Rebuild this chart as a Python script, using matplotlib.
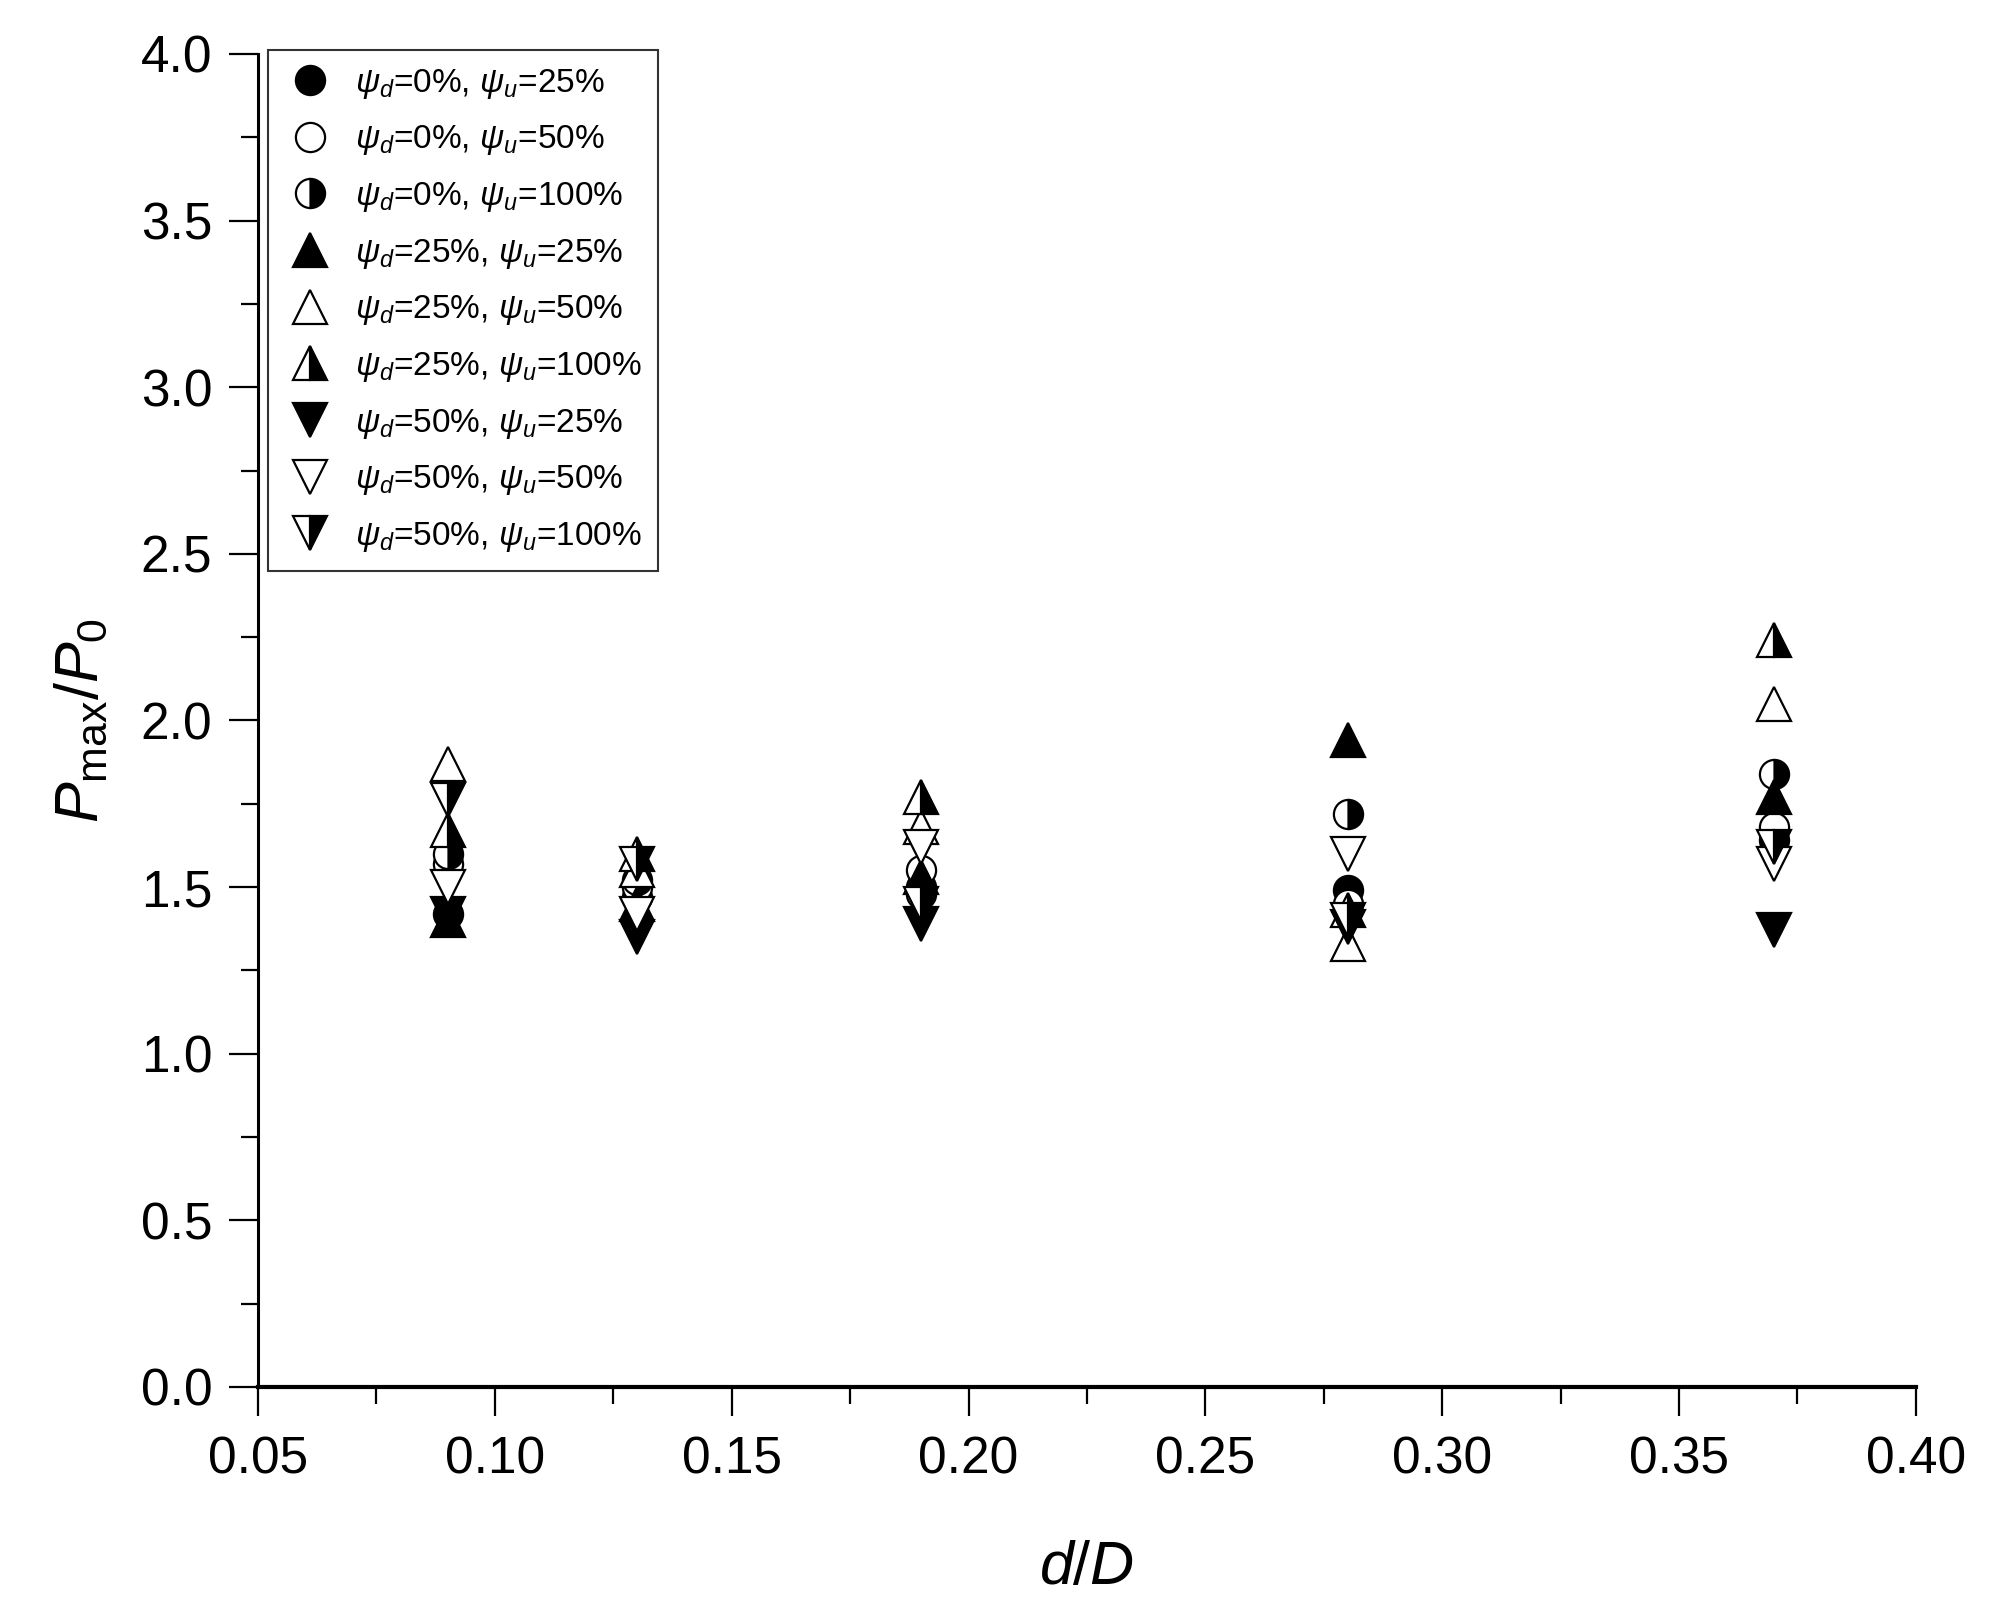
import matplotlib
matplotlib.use("Agg")
import matplotlib.pyplot as plt
from matplotlib.ticker import MultipleLocator

plt.rcParams['font.family'] = ['Liberation Sans', 'DejaVu Sans']
plt.rcParams['mathtext.fontset'] = 'custom'
plt.rcParams['mathtext.rm'] = 'Liberation Sans'
plt.rcParams['mathtext.it'] = 'Liberation Sans:italic'

# d/D positions
x = [0.09, 0.13, 0.19, 0.28, 0.37]

# Pmax/P0, one list per (psi_d, psi_u)
d0_u25 = [1.42, 1.47, 1.50, 1.49, 1.64]
d0_u50 = [1.57, 1.50, 1.55, 1.45, 1.68]
d0_u100 = [1.60, 1.52, 1.48, 1.72, 1.84]
d25_u25 = [1.40, 1.45, 1.53, 1.94, 1.77]
d25_u50 = [1.87, 1.55, 1.68, 1.33, 2.05]
d25_u100 = [1.67, 1.60, 1.77, 1.43, 2.24]
d50_u25 = [1.42, 1.35, 1.39, 1.38, 1.37]
d50_u50 = [1.50, 1.42, 1.62, 1.60, 1.57]
d50_u100 = [1.76, 1.57, 1.45, 1.40, 1.62]

labels = [r'$\psi_d$=0%, $\psi_u$=25%', r'$\psi_d$=0%, $\psi_u$=50%', r'$\psi_d$=0%, $\psi_u$=100%',
          r'$\psi_d$=25%, $\psi_u$=25%', r'$\psi_d$=25%, $\psi_u$=50%', r'$\psi_d$=25%, $\psi_u$=100%',
          r'$\psi_d$=50%, $\psi_u$=25%', r'$\psi_d$=50%, $\psi_u$=50%', r'$\psi_d$=50%, $\psi_u$=100%']
series = [d0_u25, d0_u50, d0_u100, d25_u25, d25_u50, d25_u100, d50_u25, d50_u50, d50_u100]

# marker shape and fill for each series
styles = []
for m in ['o', '^', 'v']:
    styles.append(dict(marker=m, markerfacecolor='black', fillstyle='full'))
    styles.append(dict(marker=m, markerfacecolor='white', fillstyle='full'))
    styles.append(dict(marker=m, markerfacecolor='black', fillstyle='right', markerfacecoloralt='white'))

fig = plt.figure(figsize=(20.02, 16.21), dpi=100)
ax = fig.add_axes([0.1289, 0.1444, 0.957 - 0.1289, 0.9667 - 0.1444])

for ys, lab, st in zip(series, labels, styles):
    ms = 21 if st['marker'] == 'o' else 24
    ax.plot(x, ys, linestyle='none', markersize=ms, markeredgecolor='black',
            markeredgewidth=1.6, label=lab, **st)

ax.set_xlim(0.05, 0.40)
ax.set_ylim(0.0, 4.0)
ax.xaxis.set_major_locator(MultipleLocator(0.05))
ax.xaxis.set_minor_locator(MultipleLocator(0.025))
ax.yaxis.set_major_locator(MultipleLocator(0.5))
ax.yaxis.set_minor_locator(MultipleLocator(0.25))
ax.xaxis.set_major_formatter(matplotlib.ticker.FormatStrFormatter('%.2f'))
ax.yaxis.set_major_formatter(matplotlib.ticker.FormatStrFormatter('%.1f'))

for s in ['top', 'right']:
    ax.spines[s].set_visible(False)
ax.spines['bottom'].set_linewidth(3.0)
ax.spines['left'].set_linewidth(2.2)

ax.tick_params(which='major', direction='out', length=21, width=1.6, labelsize=37)
ax.tick_params(which='minor', direction='out', length=12, width=1.6)
ax.tick_params(axis='x', which='major', pad=14)
ax.tick_params(axis='y', which='major', pad=12)

ax.set_xlabel('$d/D$', fontsize=44, labelpad=40)
ax.set_ylabel(r'$P_{\mathrm{max}}/P_0$', fontsize=44, labelpad=22)

leg = ax.legend(loc='upper left', bbox_to_anchor=(0.006, 1.003), borderaxespad=0,
                fontsize=24, frameon=True, fancybox=False, edgecolor='black',
                numpoints=1, handlelength=1.5, handletextpad=0.6, labelspacing=0.68,
                borderpad=0.5, markerscale=1.0)
leg.get_frame().set_linewidth(1.5)

fig.savefig('out.png', dpi=100)
